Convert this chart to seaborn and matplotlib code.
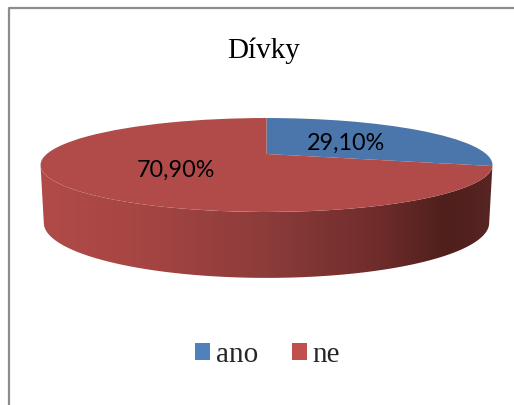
import numpy as np
import matplotlib
matplotlib.use("Agg")
import matplotlib.pyplot as plt
from matplotlib.lines import Line2D
from matplotlib.patches import Polygon, Rectangle
from matplotlib.transforms import Transform
from matplotlib.colors import LinearSegmentedColormap
import seaborn as sns

title = "Dívky"
categories = ["ano", "ne"]
values = [29.10, 70.90]
value_labels = ["29,10%", "70,90%"]
slice_colors = ["#4a76ac", "#b04b49"]
legend_colors = ["#4f81bd", "#c0504d"]
wall_colors = ["#b04b49", "#a84644", "#8c3c3a", "#6e2c2b", "#4e1f1c", "#582523"]

sns.set_theme(style="white")
W, H = 514, 405
fig = plt.figure(figsize=(W / 100, H / 100), dpi=100)
ax = fig.add_axes([0, 0, 1, 1])


class Perspective(Transform):
    input_dims = output_dims = 2
    is_affine = False
    has_inverse = False

    def __init__(self, cx, cy, a, c, k):
        super().__init__()
        self.cx, self.cy, self.a, self.c, self.k = cx, cy, a, c, k

    def transform_non_affine(self, xy):
        xy = np.asarray(xy, float)
        w = 1 + self.k * xy[:, 1]
        return np.column_stack([self.cx + self.a * xy[:, 0] / w,
                                self.cy - self.c * xy[:, 1] / w])


k_top = 0.234
top = Perspective(266.5, 154, 219.7, 44.4, k_top)
bottom = Perspective(266.5, 210, 216.5, 52.0, k_top)

wedges, _ = ax.pie(values, colors=slice_colors, startangle=90, counterclock=False,
                   radius=1, center=(0, 0), frame=True,
                   wedgeprops={"linewidth": 0})

ax.set_aspect("auto")
ax.set_xlim(0, W)
ax.set_ylim(H, 0)
ax.axis("off")
for w in wedges:
    w.set_transform(top + ax.transData)
    w.set_zorder(5)

# outer wall of the pie: front half of the disc, between its widest points
widest = np.degrees(np.arcsin(k_top))
t = np.radians(np.linspace(widest, 180 - widest, 300))
rim = np.column_stack([np.cos(t), -np.sin(t)])
upper = top.transform(rim)
lower = bottom.transform(rim)[::-1]
wall = Polygon(np.vstack([upper, lower]), closed=True, transform=ax.transData,
               fc="none", ec="none")
ax.add_patch(wall)
cmap = LinearSegmentedColormap.from_list(
    "wall", list(zip([0, 0.2, 0.5, 0.75, 0.9, 1.0], wall_colors)))
grad = np.linspace(0, 1, 256)[None, :]
im = ax.imshow(grad, cmap=cmap, extent=(40, 493, 290, 150), aspect="auto", zorder=2)
im.set_clip_path(wall)
ax.set_xlim(0, W)
ax.set_ylim(H, 0)

# chart border: only the top and left edges are visible
ax.add_line(Line2D([8.5, 8.5, W], [H, 8, 8], color="#8c8c8c", lw=1.6, zorder=1))

ax.text(264, 51, title, family="Liberation Serif", fontsize=21, ha="center",
        va="center", color="black", zorder=6)
label_pos = [(346, 143), (176, 170)]
for (x, y), s in zip(label_pos, value_labels):
    ax.text(x, y, s, family="Lato", fontsize=16.8, ha="center", va="center",
            color="black", zorder=6)

handles = [Rectangle((0, 0), 1, 1, fc=c, ec="none") for c in legend_colors]
ax.legend(handles, categories, loc="center", bbox_to_anchor=(267.5 / W, 1 - 355 / H),
          ncol=2, frameon=False, prop={"family": "Liberation Serif", "size": 21},
          handlelength=0.51, handleheight=0.51, handletextpad=0.2, columnspacing=1.17,
          borderpad=0)

fig.savefig("out.png", dpi=100)
